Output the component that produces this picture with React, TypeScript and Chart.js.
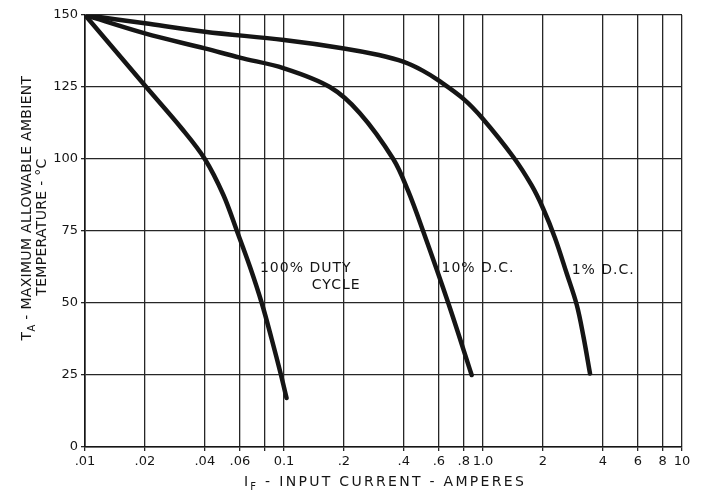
import { useEffect, useRef } from 'react';
import { Chart, registerables } from 'chart.js';

Chart.register(...registerables);

// ---- Data ----
const current100 = [0.01, 0.02, 0.0307, 0.04, 0.0496, 0.058, 0.0675, 0.0773, 0.0867, 0.0966, 0.103];
const temp100 = [150, 125.5, 110.5, 100, 87.5, 75, 62.5, 50, 37.5, 25, 17];

const current10 = [0.01, 0.02, 0.04, 0.06, 0.1, 0.17, 0.24, 0.354, 0.42, 0.5, 0.669, 0.877];
const temp10 = [150, 143.6, 138.4, 135.2, 131.5, 125, 116, 100, 89, 75, 50, 25];

const current1 = [0.01, 0.02, 0.04, 0.1, 0.2, 0.3, 0.4, 0.5, 0.6, 0.8, 1.0, 1.42, 1.75, 2.0, 2.3, 2.63, 2.96, 3.2, 3.45];
const temp1 = [150, 147.1, 144.2, 141.3, 138.4, 136.1, 133.7, 130.6, 127.2, 120.8, 113.9, 100.7, 91, 83, 72.6, 60.4, 49.3, 38.2, 25.5];

const xTickValues = [0.01, 0.02, 0.04, 0.06, 0.08, 0.1, 0.2, 0.4, 0.6, 0.8, 1, 2, 4, 6, 8, 10];
const xTickLabels = ['.01', '.02', '.04', '.06', '', '0.1', '.2', '.4', '.6', '.8', '1.0', '2', '4', '6', '8', '10'];

const annotationText = ['100% DUTY', 'CYCLE', '10% D.C.', '1% D.C.'];
const annotationX = [0.0757, 0.138, 0.619, 2.79];
const annotationY = [62.2, 56.2, 62.2, 61.5];

const yTitle1: [string, boolean][] = [['T', false], ['A', true], [' - MAXIMUM ALLOWABLE AMBIENT', false]];
const yTitle2: [string, boolean][] = [['TEMPERATURE - °C', false]];
const xTitle: [string, boolean][] = [['I', false], ['F', true], [' - INPUT CURRENT - AMPERES', false]];

const toPoints = (xs: number[], ys: number[]) => xs.map((x, i) => ({ x, y: ys[i] }));

const FONT = '"DejaVu Sans", sans-serif';
const INK = '#151515';

const textPlugin = {
  id: 'customText',
  afterDraw(chart: any) {
    const ctx: CanvasRenderingContext2D = chart.ctx;
    const xs = chart.scales.x;
    const ys = chart.scales.y;
    ctx.save();
    ctx.fillStyle = INK;
    ctx.textBaseline = 'middle';
    ctx.textAlign = 'left';
    ctx.font = `14px ${FONT}`;
    (ctx as any).letterSpacing = '1px';
    annotationText.forEach((t, i) => {
      ctx.fillText(t, xs.getPixelForValue(annotationX[i]), ys.getPixelForValue(annotationY[i]));
    });

    const drawParts = (parts: [string, boolean][], cx: number, cy: number, size: number, spacing: number) => {
      ctx.textBaseline = 'alphabetic';
      ctx.textAlign = 'left';
      (ctx as any).letterSpacing = `${spacing}px`;
      let total = 0;
      const widths = parts.map(([t, sub]) => {
        ctx.font = `${sub ? Math.round(size * 0.72) : size}px ${FONT}`;
        const w = ctx.measureText(t).width;
        total += w;
        return w;
      });
      let x = cx - total / 2;
      const base = cy + size * 0.36;
      parts.forEach(([t, sub], i) => {
        ctx.font = `${sub ? Math.round(size * 0.72) : size}px ${FONT}`;
        ctx.fillText(t, x, sub ? base + size * 0.3 : base);
        x += widths[i];
      });
    };

    // y-axis title (two rotated lines)
    ctx.save();
    ctx.translate(26, 208);
    ctx.rotate(-Math.PI / 2);
    drawParts(yTitle1, 0, 0, 14, 0.3);
    ctx.restore();
    ctx.save();
    ctx.translate(41, 227);
    ctx.rotate(-Math.PI / 2);
    drawParts(yTitle2, 0, 0, 14, 0.3);
    ctx.restore();

    // x-axis title
    drawParts(xTitle, 385, 481, 14, 2.3);
    ctx.restore();
  },
};

export default function App() {
  const ref = useRef<HTMLCanvasElement>(null);

  useEffect(() => {
    const lineStyle = {
      borderColor: INK,
      borderWidth: 4.5,
      pointRadius: 0,
      fill: false,
      tension: 0.35,
      borderCapStyle: 'round' as const,
      borderJoinStyle: 'round' as const,
    };
    const chart = new Chart(ref.current!, {
      type: 'line',
      data: {
        datasets: [
          { label: '100% Duty Cycle', data: toPoints(current100, temp100), ...lineStyle },
          { label: '10% D.C.', data: toPoints(current10, temp10), ...lineStyle },
          { label: '1% D.C.', data: toPoints(current1, temp1), ...lineStyle },
        ],
      },
      options: {
        responsive: false,
        animation: false,
        devicePixelRatio: 1,
        layout: { padding: { left: 0, right: 20, top: 15, bottom: 0 } },
        plugins: {
          legend: { display: false },
          tooltip: { enabled: false },
        },
        scales: {
          x: {
            type: 'logarithmic',
            min: 0.01,
            max: 10,
            afterBuildTicks: (s: any) => {
              s.ticks = xTickValues.map((v) => ({ value: v }));
            },
            afterFit: (s: any) => {
              s.height = 44;
            },
            ticks: {
              autoSkip: false,
              maxRotation: 0,
              minRotation: 0,
              padding: 3,
              color: INK,
              font: { family: FONT, size: 13 },
              callback: (_v: any, i: number) => xTickLabels[i],
            },
            grid: { color: '#262626', lineWidth: 1.3, tickLength: 4 },
            border: { color: INK, width: 1.6 },
          },
          y: {
            type: 'linear',
            min: 0,
            max: 150,
            afterFit: (s: any) => {
              s.width = 85;
            },
            ticks: {
              stepSize: 25,
              padding: 3,
              color: INK,
              font: { family: FONT, size: 13 },
            },
            grid: { color: '#262626', lineWidth: 1.3, tickLength: 4 },
            border: { color: INK, width: 1.6 },
          },
        },
      },
      plugins: [textPlugin],
    });
    return () => chart.destroy();
  }, []);

  return (
    <div style={{ position: 'fixed', left: 0, top: 0, width: 702, height: 491, background: '#fff' }}>
      <canvas ref={ref} width={702} height={491} style={{ width: 702, height: 491, display: 'block' }} />
    </div>
  );
}
